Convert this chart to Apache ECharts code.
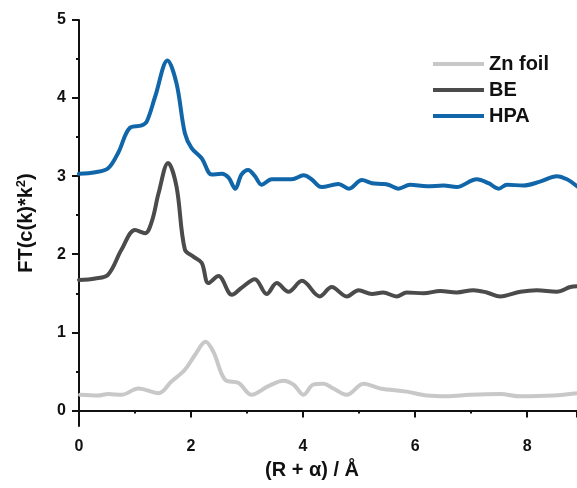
<!DOCTYPE html>
<html>
<head>
<meta charset="utf-8">
<script src="https://cdn.jsdelivr.net/npm/echarts@6/dist/echarts.min.js"></script>
<style>
  html, body { margin: 0; padding: 0; background: #fff; }
  #chart { width: 577px; height: 488px; }
</style>
</head>
<body>
<div id="chart"></div>
<script>
// Fourier-transformed EXAFS spectra, R space
const seriesNames = ['Zn foil', 'BE', 'HPA'];

const znFoilR = [0.02, 0.34, 0.52, 0.76, 1.06, 1.42, 1.65, 1.89, 2.07, 2.26, 2.40, 2.61, 2.85, 3.08, 3.38, 3.65, 3.83, 4.01, 4.18, 4.36, 4.54, 4.78, 5.08, 5.38, 5.85, 6.21, 6.57, 6.98, 7.52, 7.88, 8.47, 8.89];
const znFoilFT = [0.20, 0.19, 0.21, 0.20, 0.28, 0.22, 0.37, 0.52, 0.71, 0.88, 0.75, 0.39, 0.35, 0.20, 0.31, 0.38, 0.33, 0.20, 0.33, 0.34, 0.28, 0.20, 0.34, 0.28, 0.24, 0.19, 0.18, 0.20, 0.21, 0.18, 0.19, 0.22];

const beR = [0.00, 0.29, 0.52, 0.76, 1.00, 1.18, 1.30, 1.42, 1.59, 1.74, 1.89, 2.04, 2.19, 2.31, 2.49, 2.73, 2.90, 3.14, 3.35, 3.53, 3.74, 3.98, 4.30, 4.51, 4.78, 4.99, 5.23, 5.43, 5.67, 5.85, 6.15, 6.45, 6.74, 7.04, 7.28, 7.52, 7.88, 8.17, 8.53, 8.77, 8.89];
const beFT = [1.67, 1.69, 1.74, 2.06, 2.31, 2.27, 2.42, 2.78, 3.17, 2.87, 2.06, 1.97, 1.89, 1.63, 1.72, 1.48, 1.57, 1.68, 1.49, 1.63, 1.52, 1.66, 1.46, 1.58, 1.46, 1.54, 1.49, 1.51, 1.46, 1.51, 1.50, 1.53, 1.51, 1.54, 1.51, 1.46, 1.52, 1.54, 1.52, 1.58, 1.59];

const hpaR = [0.00, 0.29, 0.52, 0.70, 0.91, 1.12, 1.21, 1.36, 1.58, 1.74, 1.89, 2.01, 2.19, 2.37, 2.55, 2.67, 2.79, 2.90, 3.02, 3.14, 3.26, 3.44, 3.80, 4.01, 4.15, 4.33, 4.63, 4.82, 5.05, 5.23, 5.40, 5.52, 5.70, 5.91, 6.21, 6.51, 6.74, 7.10, 7.31, 7.49, 7.64, 7.93, 8.23, 8.53, 8.71, 8.89];
const hpaFT = [3.03, 3.05, 3.10, 3.30, 3.62, 3.65, 3.70, 4.02, 4.48, 4.19, 3.55, 3.36, 3.23, 3.02, 3.03, 2.98, 2.84, 3.02, 3.08, 3.00, 2.89, 2.96, 2.96, 3.01, 2.96, 2.86, 2.90, 2.84, 2.95, 2.91, 2.90, 2.89, 2.84, 2.89, 2.87, 2.88, 2.86, 2.96, 2.91, 2.84, 2.89, 2.88, 2.93, 3.00, 2.96, 2.87];

const yMajorTicks = [0, 1, 2, 3, 4, 5];
const yMinorTicks = [0.5, 1.5, 2.5, 3.5, 4.5];

const seriesColors = ['#c8c8c8', '#4b4b4b', '#1066a9'];

const zip = (xs, ys) => xs.map((x, i) => [x, ys[i]]);
const seriesData = [zip(znFoilR, znFoilFT), zip(beR, beFT), zip(hpaR, hpaFT)];

const FONT = 'Liberation Sans, Arial, sans-serif';
const INK = '#111';

const chart = echarts.init(document.getElementById('chart'), null, { renderer: 'canvas' });

chart.setOption({
  backgroundColor: '#fff',
  animation: false,
  grid: { left: 79, right: 0, top: 20, bottom: 62, containLabel: false },
  legend: {
    orient: 'vertical',
    left: 428,
    top: 49,
    itemWidth: 51,
    itemHeight: 4,
    itemGap: 6,
    icon: 'rect',
    textStyle: { fontFamily: FONT, fontSize: 20, fontWeight: 'bold', color: INK, padding: [0, 0, 0, 0] },
    data: seriesNames
  },
  xAxis: [{
    type: 'value',
    min: 0,
    max: 8.89,
    interval: 2,
    name: '(R + α) / Å',
    nameLocation: 'middle',
    nameGap: 34,
    nameTextStyle: { fontFamily: FONT, fontSize: 20, fontWeight: 'bold', color: INK, padding: [0, 32, 0, 0] },
    axisLine: { show: true, lineStyle: { color: INK, width: 2 } },
    axisTick: { show: true, length: 7, lineStyle: { color: INK, width: 2 } },
    minorTick: { show: true, splitNumber: 2, length: 3, lineStyle: { color: INK, width: 2 } },
    axisLabel: {
      margin: 13,
      fontFamily: FONT, fontSize: 16, fontWeight: 'bold', color: INK,
      showMaxLabel: false
    },
    splitLine: { show: false },
    minorSplitLine: { show: false }
  }, {
    type: 'value',
    position: 'top',
    min: 0,
    max: 8.89,
    axisLine: { show: true, lineStyle: { color: INK, width: 2 } },
    axisTick: { show: false },
    axisLabel: { show: false },
    splitLine: { show: false }
  }],
  yAxis: [{
    type: 'value',
    min: -0.2,
    max: 5,
    name: '{t|FT(c(k)*k}{s|2}{t|)}',
    nameLocation: 'middle',
    nameGap: 42,
    nameRotate: 90,
    nameTextStyle: {
      rich: {
        t: { fontFamily: FONT, fontSize: 20, fontWeight: 'bold', color: INK },
        s: { fontFamily: FONT, fontSize: 13, fontWeight: 'bold', color: INK, verticalAlign: 'top', padding: [0, 0, 9, 0] }
      }
    },
    axisLine: { show: true, onZero: false, lineStyle: { color: INK, width: 2 } },
    axisTick: { show: true, length: 7, customValues: yMajorTicks, lineStyle: { color: INK, width: 2 } },
    axisLabel: {
      margin: 13,
      customValues: yMajorTicks,
      fontFamily: FONT, fontSize: 16, fontWeight: 'bold', color: INK
    },
    splitLine: { show: false }
  }, {
    type: 'value',
    position: 'left',
    min: -0.2,
    max: 5,
    axisLine: { show: false },
    axisTick: { show: true, length: 3, customValues: yMinorTicks, lineStyle: { color: INK, width: 2 } },
    axisLabel: { show: false },
    splitLine: { show: false }
  }],
  series: seriesNames.map((name, i) => ({
    name,
    type: 'line',
    xAxisIndex: 0,
    yAxisIndex: 0,
    data: seriesData[i],
    smooth: 0.35,
    showSymbol: false,
    symbol: 'none',
    color: seriesColors[i],
    lineStyle: { color: seriesColors[i], width: 4, cap: 'round', join: 'round' },
    z: 2 + i
  }))
});
</script>
</body>
</html>
